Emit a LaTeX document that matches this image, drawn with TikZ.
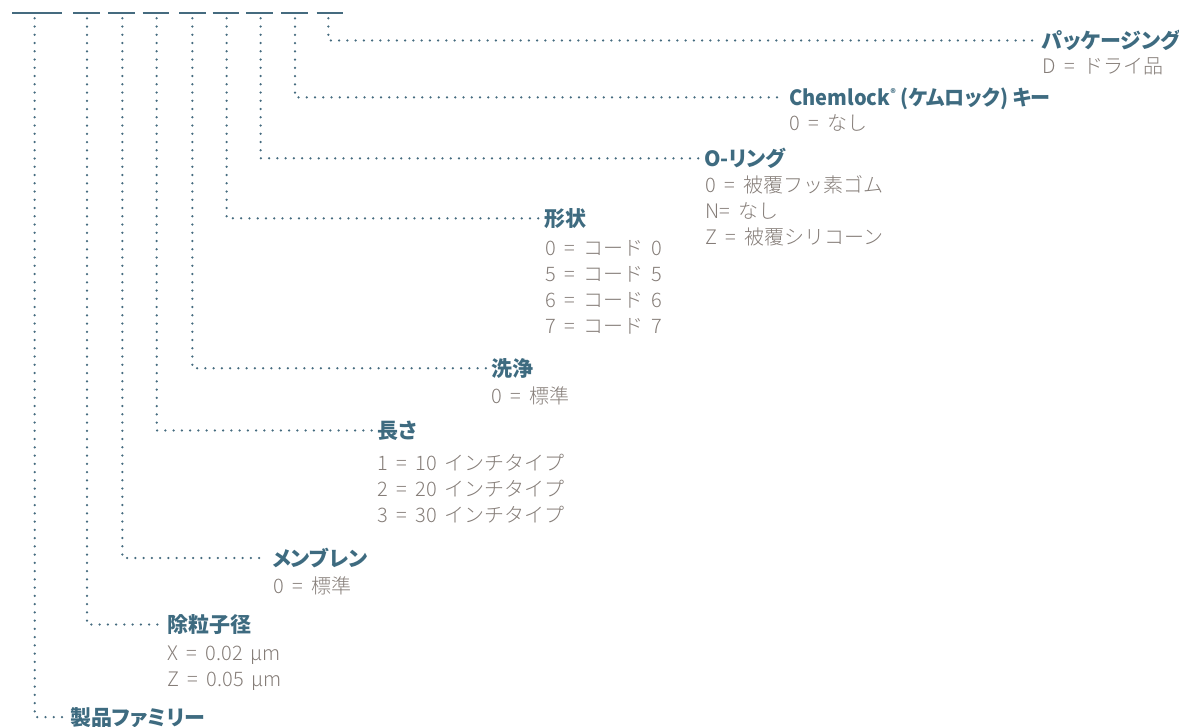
\documentclass[tikz,border=0pt]{standalone}
\usepackage{fontspec}
\IfFontExistsTF{Noto Sans CJK JP Light}
  {\newfontfamily\bodyfont[WordSpace=1.7]{Noto Sans CJK JP Light}}
  {\newfontfamily\bodyfont[WordSpace=1.7]{Noto Sans CJK JP}}
\newfontfamily\headfont[RawFeature=+palt]{Noto Sans CJK JP}
\newcommand{\Eq}{\hskip 8.5pt=\hskip 8.5pt}
\definecolor{headc}{HTML}{3E6B80}
\definecolor{bodyc}{HTML}{857D78}
\definecolor{linec}{HTML}{456B7F}
\tikzset{
  head/.style={anchor=west, inner sep=0pt, text=headc,
    font=\headfont\bfseries\fontsize{21}{21}\selectfont,
    text height=18.5pt, text depth=2.5pt},
  body/.style={anchor=west, inner sep=0pt, text=bodyc,
    font=\bodyfont\fontsize{20}{20}\selectfont,
    text height=17.6pt, text depth=2.4pt},
  dots/.style={draw=linec, line width=2.5pt, line cap=round,
    dash pattern=on 0pt off 8.25pt, shorten >=5pt},
  bar/.style={draw=linec, line width=1.5pt}
}
\begin{document}
\begin{tikzpicture}[x=1pt,y=-1pt]
\useasboundingbox (0,0) rectangle (1179,727);
% top bars
\draw[bar] (12.3,13) -- (61.7,13);
\draw[bar] (73,13) -- (99.7,13);
\draw[bar] (108.3,13) -- (135,13);
\draw[bar] (142.7,13) -- (169.3,13);
\draw[bar] (179,13) -- (205.7,13);
\draw[bar] (212.7,13) -- (239.3,13);
\draw[bar] (246.3,13) -- (273.3,13);
\draw[bar] (281,13) -- (308.3,13);
\draw[bar] (316.7,13) -- (343.3,13);
% top points of the leaders
\coordinate (t1) at (34.7,18.3);
\coordinate (t2) at (87,18.3);
\coordinate (t3) at (122.3,18.3);
\coordinate (t4) at (156.7,18.3);
\coordinate (t5) at (192.3,18.3);
\coordinate (t6) at (226.7,18.3);
\coordinate (t7) at (260.7,18.3);
\coordinate (t8) at (295,18.3);
\coordinate (t9) at (328.3,18.3);
% headings
\node[head] (h9) at (1042,40.5) {パッケージング};
\node[head] (h8) at (789,97.3) {\scalebox{0.955}[1]{Chemlock\raisebox{.38em}{\fontsize{11}{11}\selectfont ®} (ケムロック) キー}};
\node[head] (h7) at (704,158.3) {O-リング};
\node[head] (h6) at (544,218.3) {形状};
\node[head] (h5) at (491,368.3) {洗浄};
\node[head] (h4) at (377,430.5) {長さ};
\node[head] (h3) at (272,558) {メンブレン};
\node[head] (h2) at (167,624.5) {除粒子径};
\node[head] (h1) at (70,717) {製品ファミリー};
% values
\node[body] (v9a) at (1042,66) {D\Eq ドライ品};
\node[body] (v8a) at (789,122.5) {0\Eq なし};
\node[body] (v7a) at (705,184.5) {0\Eq 被覆フッ素ゴム};
\node[body] (v7b) at (705,210.5) {N=\hskip 8.5pt なし};
\node[body] (v7c) at (705,236.5) {Z\Eq 被覆シリコーン};
\node[body] (v6a) at (545,247.5) {0\Eq コード 0};
\node[body] (v6b) at (545,273.5) {5\Eq コード 5};
\node[body] (v6c) at (545,299.5) {6\Eq コード 6};
\node[body] (v6d) at (545,325.5) {7\Eq コード 7};
\node[body] (v5a) at (491,396) {0\Eq 標準};
\node[body] (v4a) at (377,463) {1\Eq 10 インチタイプ};
\node[body] (v4b) at (377,489) {2\Eq 20 インチタイプ};
\node[body] (v4c) at (377,515) {3\Eq 30 インチタイプ};
\node[body] (v3a) at (273,585.5) {0\Eq 標準};
\node[body] (v2a) at (167,652.5) {X\Eq 0.02 µm};
\node[body] (v2b) at (167,678.5) {Z\Eq 0.05 µm};
% leaders
\draw[dots] (t1) |- (h1.west);
\draw[dots] (t2) |- (h2.west);
\draw[dots] (t3) |- (h3.west);
\draw[dots] (t4) |- (h4.west);
\draw[dots] (t5) |- (h5.west);
\draw[dots] (t6) |- (h6.west);
\draw[dots] (t7) |- (h7.west);
\draw[dots] (t8) |- (h8.west);
\draw[dots] (t9) |- (h9.west);
\end{tikzpicture}
\end{document}
